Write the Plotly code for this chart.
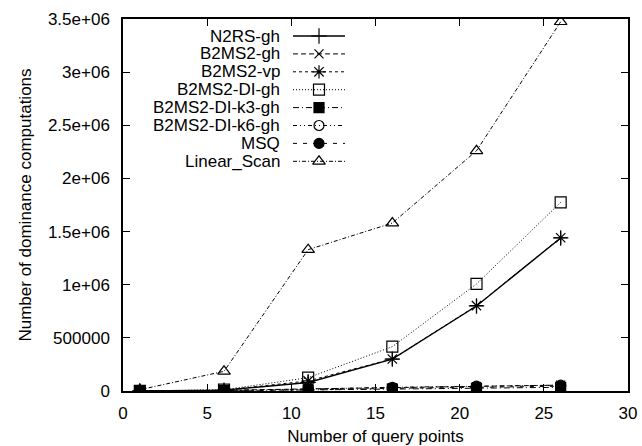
import plotly.graph_objects as go

# ---- data ----
query_points = [1, 6, 11, 16, 21, 26]
n2rs_gh = [500, 8000, 80000, 300000, 800000, 1440000]
b2ms2_gh = [300, 6000, 20000, 30000, 40000, 55000]
b2ms2_vp = [500, 8000, 95000, 301000, 803000, 1442000]
b2ms2_di_gh = [600, 12000, 125000, 417000, 1007000, 1775000]
b2ms2_di_k3_gh = [200, 3000, 10000, 18000, 25000, 35000]
b2ms2_di_k6_gh = [300, 5000, 18000, 35000, 45000, 55000]
msq = [100, 2000, 10000, 25000, 38000, 45000]
linear_scan = [12000, 185000, 1330000, 1580000, 2260000, 3474000]

series_names = ["N2RS-gh", "B2MS2-gh", "B2MS2-vp", "B2MS2-DI-gh",
                "B2MS2-DI-k3-gh", "B2MS2-DI-k6-gh", "MSQ", "Linear_Scan"]
series_values = [n2rs_gh, b2ms2_gh, b2ms2_vp, b2ms2_di_gh,
                 b2ms2_di_k3_gh, b2ms2_di_k6_gh, msq, linear_scan]

x_tick_vals = [0, 5, 10, 15, 20, 25, 30]
x_tick_text = ["0", "5", "10", "15", "20", "25", "30"]
y_tick_vals = [0, 500000, 1000000, 1500000, 2000000, 2500000, 3000000, 3500000]
y_tick_text = ["0", "500000", "1e+06", "1.5e+06", "2e+06", "2.5e+06", "3e+06", "3.5e+06"]

# ---- styles ----
styles = [
    dict(dash="solid", symbol="cross-thin", size=11, width=1.4),
    dict(dash="5px,3px", symbol="x-thin", size=9, width=1),
    dict(dash="3px,3px", symbol="asterisk", size=11, width=1),
    dict(dash="1px,2px", symbol="square-open", size=11, width=1),
    dict(dash="6px,3px,1px,3px", symbol="square", size=10, width=1),
    dict(dash="4px,3px,1px,3px,1px,3px", symbol="circle-open", size=10, width=1),
    dict(dash="4px,6px", symbol="circle", size=10, width=1),
    dict(dash="4px,2px,1px,2px", symbol="triangle-up-open", size=11, width=1),
]

FONT = "Liberation Sans, Arial, Helvetica, sans-serif"
fig = go.Figure()

for name, vals, st in zip(series_names, series_values, styles):
    fig.add_trace(go.Scatter(
        x=query_points, y=vals, mode="lines+markers", name=name,
        showlegend=False,
        line=dict(color="black", width=st["width"], dash=st["dash"]),
        marker=dict(symbol=st["symbol"], size=st["size"], color="black",
                    line=dict(color="black", width=1.2)),
    ))

# ---- manual gnuplot-style legend (text left, sample right) on overlay axes in pixel units ----
row0, row_step = 17.0, 17.9
text_x, line_x0, line_x1, mark_x = 159, 170, 222, 196
for i, (name, st) in enumerate(zip(series_names, styles)):
    ry = row0 + i * row_step
    fig.add_trace(go.Scatter(
        x=[line_x0, line_x1], y=[ry, ry], mode="lines", xaxis="x2", yaxis="y2",
        showlegend=False, hoverinfo="skip",
        line=dict(color="black", width=st["width"], dash=st["dash"]),
    ))
    fig.add_trace(go.Scatter(
        x=[mark_x], y=[ry], mode="markers", xaxis="x2", yaxis="y2",
        showlegend=False, hoverinfo="skip",
        marker=dict(symbol=st["symbol"], size=st["size"], color="black",
                    line=dict(color="black", width=1.2)),
    ))
    fig.add_annotation(x=text_x, y=ry, xref="x2", yref="y2", text=name,
                       showarrow=False, xanchor="right", yanchor="middle",
                       font=dict(family=FONT, size=17, color="black"))

# stray cut-off label at the far left of the original image
fig.add_annotation(x=-0.258, y=-0.05, xref="paper", yref="paper", text="0",
                   showarrow=False, xanchor="center", yanchor="middle",
                   font=dict(family=FONT, size=17, color="black"))

axis_common = dict(showgrid=False, zeroline=False, showline=True, linecolor="black",
                   linewidth=1.5, mirror="ticks", ticks="inside", ticklen=7,
                   tickcolor="black", tickwidth=1.2, automargin=False,
                   tickfont=dict(family=FONT, size=17, color="black"))

fig.update_layout(
    width=642, height=446,
    margin=dict(l=123, r=14, t=19, b=55),
    paper_bgcolor="white", plot_bgcolor="white",
    font=dict(family=FONT, size=17, color="black"),
    xaxis=dict(range=[0, 30], tickvals=x_tick_vals, ticktext=x_tick_text,
               ticklabelstandoff=6,
               title=dict(text="Number of query points", standoff=14,
                          font=dict(family=FONT, size=17)),
               **axis_common),
    yaxis=dict(range=[0, 3500000], tickvals=y_tick_vals, ticktext=y_tick_text,
               ticklabelstandoff=8,
               title=dict(text="Number of dominance computations", standoff=12,
                          font=dict(family=FONT, size=17)),
               **axis_common),
    xaxis2=dict(range=[0, 505], overlaying="x", visible=False, fixedrange=True),
    yaxis2=dict(range=[372, 0], overlaying="y", visible=False, fixedrange=True),
    showlegend=False,
)

fig.write_html("out.html", config={"displayModeBar": False},
               post_script="document.body.style.margin='0';document.body.style.padding='0';")
